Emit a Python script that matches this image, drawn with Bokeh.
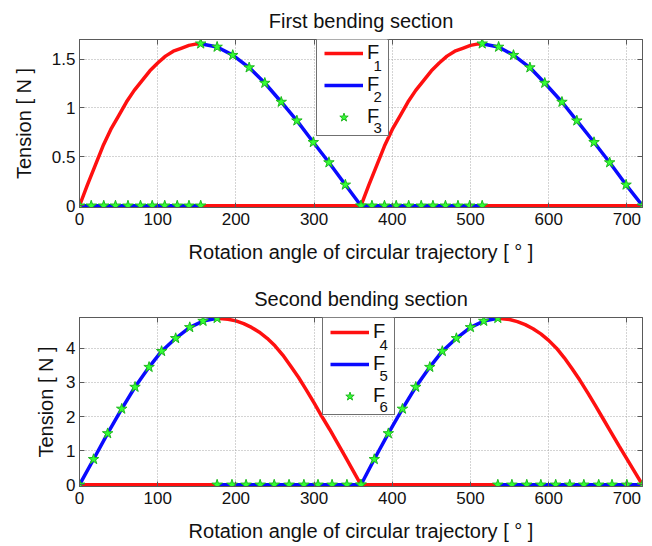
from bokeh.embed import file_html
from bokeh.layouts import column
from bokeh.models import (BoxAnnotation, FixedTicker, Label, Legend, LegendItem, LinearAxis,
                          Range1d)
from bokeh.plotting import figure
from bokeh.resources import INLINE

NAN = float("nan")

# ---------------- data: first bending section ----------------
x_ticks = [0, 100, 200, 300, 400, 500, 600, 700]
x_tick_labels = ["0", "100", "200", "300", "400", "500", "600", "700"]

top_y_ticks = [0, 0.5, 1, 1.5]
top_y_tick_labels = ["0", "0.5", "1", "1.5"]
top_series_index = ["1", "2", "3"]

# F1 rising arcs
f1_rise_angle_a = [0, 10, 20, 30, 40, 50, 60, 70, 80, 90, 100, 110, 120, 130, 140, 150, 155]
f1_rise_angle_b = [360, 370, 380, 390, 400, 410, 420, 430, 440, 450, 460, 470, 480, 490, 500, 510, 515]
f1_rise_value = [0.0, 0.21, 0.41, 0.61, 0.78, 0.92, 1.06, 1.18, 1.28, 1.38, 1.46, 1.53, 1.58,
                 1.61, 1.64, 1.655, 1.657]
# F1 idle stretches
f1_idle_angle_a = [155, 360]
f1_idle_angle_b = [515, 720]
f1_idle_value = [0.0, 0.0]

# F2 / F3 sample points
f2_idle_angle_a = [0, 15, 31, 46, 62, 78, 93, 109, 125, 140, 155]
f2_idle_angle_b = [360, 374, 390, 405, 421, 437, 452, 468, 484, 499, 515]
f2_idle_value = [0.0, 0.0, 0.0, 0.0, 0.0, 0.0, 0.0, 0.0, 0.0, 0.0, 0.0]
f2_fall_angle_a = [155, 176, 196, 217, 237, 258, 278, 299, 319, 340, 360]
f2_fall_angle_b = [515, 536, 555, 576, 595, 617, 636, 658, 678, 699, 720]
f2_fall_value = [1.657, 1.624, 1.54, 1.413, 1.255, 1.061, 0.870, 0.649, 0.442, 0.214, 0.0]

# ---------------- data: second bending section ----------------
bottom_y_ticks = [0, 1, 2, 3, 4]
bottom_y_tick_labels = ["0", "1", "2", "3", "4"]
bottom_series_index = ["4", "5", "6"]

# F4 idle stretches and falling arcs
f4_idle_angle_a = [0, 176]
f4_idle_angle_b = [360, 535]
f4_idle_value = [0.0, 0.0]
f4_fall_angle_a = [176, 190, 200, 210, 220, 230, 240, 250, 260, 270, 280, 290, 300, 310, 320,
                   330, 340, 350, 360]
f4_fall_value_a = [4.88, 4.85, 4.80, 4.72, 4.61, 4.47, 4.29, 4.07, 3.80, 3.48, 3.15, 2.78, 2.40,
                   2.00, 1.62, 1.22, 0.82, 0.41, 0.0]
f4_fall_angle_b = [535, 550, 560, 570, 580, 590, 600, 610, 620, 630, 640, 650, 660, 670, 680,
                   690, 700, 710, 720]
f4_fall_value_b = [4.88, 4.84, 4.78, 4.69, 4.57, 4.42, 4.23, 4.00, 3.72, 3.40, 3.06, 2.69, 2.31,
                   1.92, 1.53, 1.14, 0.76, 0.38, 0.0]

# F5 / F6 sample points
f5_rise_angle_a = [0, 18, 36, 54, 71, 89, 105, 123, 141, 158, 176]
f5_rise_angle_b = [360, 377, 395, 413, 430, 448, 464, 482, 500, 517, 535]
f5_rise_value = [0.0, 0.748, 1.505, 2.223, 2.864, 3.447, 3.913, 4.291, 4.612, 4.796, 4.88]
f5_idle_angle_a = [176, 195, 213, 231, 249, 268, 287, 305, 323, 342, 360]
f5_idle_angle_b = [535, 553, 572, 590, 609, 627, 645, 664, 681, 700, 720]
f5_idle_value = [0.0, 0.0, 0.0, 0.0, 0.0, 0.0, 0.0, 0.0, 0.0, 0.0, 0.0]

RED = "#ff1010"
BLUE = "#0a0aff"
STAR_FILL = "#33ff33"
STAR_LINE = "#1fb81f"
FRAME = "#5a5a5a"
FONT = "Liberation Sans"

# legend box geometry (screen px)
LEG_PAD = 7
LEG_ROW = 22
LEG_GAP = 9
LEG_GLYPH_W = 39
LEG_STANDOFF = 4
LEG_LABEL_W = 14


def joined(*segments):
    """Concatenate (x, y) segments, separated by NaN gaps."""
    xs, ys = [], []
    for i, (sx, sy) in enumerate(segments):
        if i:
            xs.append(NAN)
            ys.append(NAN)
        xs += list(sx)
        ys += list(sy)
    return xs, ys


def flat(*segments):
    xs, ys = [], []
    for sx, sy in segments:
        xs += list(sx)
        ys += list(sy)
    return xs, ys


def hidden_axis(ticks):
    """Axis that only carries inward tick marks (no labels)."""
    return LinearAxis(ticker=FixedTicker(ticks=ticks), major_tick_in=5, major_tick_out=0,
                      minor_tick_line_color=None, axis_line_color=FRAME,
                      major_tick_line_color=FRAME, major_label_text_font_size="0px",
                      major_label_text_color=None, major_label_standoff=0)


def make_panel(title, ymin, ymax, yticks, ylabels, border_top, border_bottom, ylabel_standoff):
    p = figure(width=652, height=273, output_backend="svg", toolbar_location=None,
               x_range=Range1d(0, 720), y_range=Range1d(ymin, ymax),
               min_border_left=79, min_border_right=10,
               min_border_top=border_top, min_border_bottom=border_bottom)
    p.background_fill_color = "white"
    p.border_fill_color = "white"
    p.outline_line_color = FRAME
    p.outline_line_width = 1

    p.title.text = title
    p.title.align = "center"
    p.title.text_font = FONT
    p.title.text_font_size = "20px"
    p.title.text_font_style = "normal"
    p.title.text_color = "#111111"
    p.title.standoff = 15

    p.xaxis.ticker = FixedTicker(ticks=x_ticks)
    p.xaxis.major_label_overrides = dict(zip(x_ticks, x_tick_labels))
    p.yaxis.ticker = FixedTicker(ticks=yticks)
    p.yaxis.major_label_overrides = dict(zip(yticks, ylabels))
    p.xaxis.axis_label = "Rotation angle of circular trajectory [ \u00b0 ]"
    p.yaxis.axis_label = "Tension [ N ]"

    for ax in (p.xaxis[0], p.yaxis[0]):
        ax.major_tick_in = 5
        ax.major_tick_out = 0
        ax.minor_tick_line_color = None
        ax.axis_line_color = FRAME
        ax.major_tick_line_color = FRAME
        ax.major_label_text_font = FONT
        ax.major_label_text_font_size = "17px"
        ax.major_label_text_color = "#111111"
        ax.axis_label_text_font = FONT
        ax.axis_label_text_font_size = "20px"
        ax.axis_label_text_font_style = "normal"
        ax.axis_label_text_color = "#111111"
    p.xaxis.major_label_standoff = 5
    p.xaxis.axis_label_standoff = 13
    p.yaxis.major_label_standoff = 4
    p.yaxis.axis_label_standoff = ylabel_standoff

    p.add_layout(hidden_axis(x_ticks), "above")
    p.add_layout(hidden_axis(yticks), "right")

    for g in (p.xgrid[0], p.ygrid[0]):
        g.grid_line_color = "#a8a8a8"
        g.grid_line_dash = "1 2"
        g.grid_line_width = 1
    p.xgrid.ticker = FixedTicker(ticks=x_ticks)
    p.ygrid.ticker = FixedTicker(ticks=yticks)
    return p


def add_legend(p, renderers, index, loc):
    n = len(renderers)
    box_h = 2 * LEG_PAD + n * LEG_ROW + (n - 1) * LEG_GAP
    box_w = 2 * LEG_PAD + LEG_GLYPH_W + LEG_STANDOFF + LEG_LABEL_W

    # opaque white panel behind the legend
    p.add_layout(BoxAnnotation(left=loc[0], right=loc[0] + box_w, bottom=loc[1],
                               top=loc[1] + box_h, left_units="screen", right_units="screen",
                               bottom_units="screen", top_units="screen",
                               fill_color="white", fill_alpha=1, line_color=None))

    items = [LegendItem(label="F", renderers=[r]) for r in renderers]
    leg = Legend(items=items, location=loc)
    leg.label_text_font = FONT
    leg.label_text_font_size = "20px"
    leg.label_text_color = "#111111"
    leg.padding = LEG_PAD
    leg.spacing = LEG_GAP
    leg.label_height = LEG_ROW
    leg.glyph_height = LEG_ROW
    leg.glyph_width = LEG_GLYPH_W
    leg.label_standoff = LEG_STANDOFF
    leg.label_width = LEG_LABEL_W
    leg.margin = 0
    leg.border_line_color = "#707070"
    leg.border_line_alpha = 1
    leg.border_line_width = 1
    leg.background_fill_alpha = 0
    p.add_layout(leg)

    # subscript digits next to each "F"
    for i, digit in enumerate(index):
        row_center = loc[1] + box_h - LEG_PAD - LEG_ROW / 2 - i * (LEG_ROW + LEG_GAP)
        p.add_layout(Label(x=loc[0] + LEG_PAD + LEG_GLYPH_W + LEG_STANDOFF + 7,
                           y=row_center - 9, x_units="screen", y_units="screen",
                           text=digit, text_font=FONT, text_font_size="15px",
                           text_color="#111111", text_baseline="alphabetic"))


# ---------------- first bending section ----------------
p1 = make_panel("First bending section", -0.018, 1.7, top_y_ticks, top_y_tick_labels, 38, 66, 14)

x, y = joined((f1_rise_angle_a, f1_rise_value), (f1_idle_angle_a, f1_idle_value),
              (f1_rise_angle_b, f1_rise_value), (f1_idle_angle_b, f1_idle_value))
r1 = p1.line(x, y, line_color=RED, line_width=3.5)

x, y = joined((f2_idle_angle_a, f2_idle_value), (f2_fall_angle_a, f2_fall_value),
              (f2_idle_angle_b, f2_idle_value), (f2_fall_angle_b, f2_fall_value))
r2 = p1.line(x, y, line_color=BLUE, line_width=3.5)

x, y = flat((f2_idle_angle_a, f2_idle_value), (f2_fall_angle_a, f2_fall_value),
            (f2_idle_angle_b, f2_idle_value), (f2_fall_angle_b, f2_fall_value))
r3 = p1.scatter(x, y, marker="star", size=11, fill_color=STAR_FILL, line_color=STAR_LINE,
                line_width=1)

add_legend(p1, [r1, r2, r3], top_series_index, (237, 71))

# ---------------- second bending section ----------------
p2 = make_panel("Second bending section", -0.05, 4.9, bottom_y_ticks, bottom_y_tick_labels,
                44, 60, 6)

x, y = joined((f4_idle_angle_a, f4_idle_value), (f4_fall_angle_a, f4_fall_value_a),
              (f4_idle_angle_b, f4_idle_value), (f4_fall_angle_b, f4_fall_value_b))
r4 = p2.line(x, y, line_color=RED, line_width=3.5)

x, y = joined((f5_rise_angle_a, f5_rise_value), (f5_idle_angle_a, f5_idle_value),
              (f5_rise_angle_b, f5_rise_value), (f5_idle_angle_b, f5_idle_value))
r5 = p2.line(x, y, line_color=BLUE, line_width=3.5)

x, y = flat((f5_rise_angle_a, f5_rise_value), (f5_idle_angle_a, f5_idle_value),
            (f5_rise_angle_b, f5_rise_value), (f5_idle_angle_b, f5_idle_value))
r6 = p2.scatter(x, y, marker="star", size=11, fill_color=STAR_FILL, line_color=STAR_LINE,
                line_width=1)

add_legend(p2, [r4, r5, r6], bottom_series_index, (243, 71))

layout = column(p1, p2, spacing=0)
open("out.html", "w").write(file_html(layout, INLINE))
